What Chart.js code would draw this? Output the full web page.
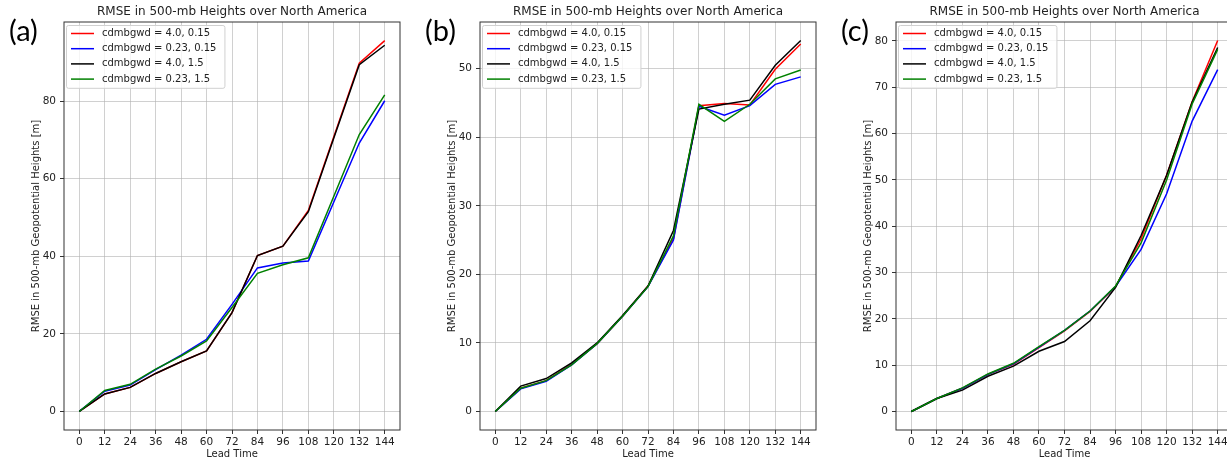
<!DOCTYPE html>
<html>
<head>
<meta charset="utf-8">
<script src="https://cdn.jsdelivr.net/npm/chart.js@4/dist/chart.umd.min.js"></script>
<style>
  html, body { margin: 0; padding: 0; background: #fff; overflow: hidden; width: 1227px; height: 460px; }
  .panel { position: absolute; top: 0; }
  .tag { position: absolute; top: 12px; font-family: Lato, "Open Sans", sans-serif; font-size: 29px; color: #000; }
</style>
</head>
<body>
<canvas id="chartA" class="panel" style="left:0px" width="410" height="460"></canvas>
<canvas id="chartB" class="panel" style="left:416px" width="410" height="460"></canvas>
<canvas id="chartC" class="panel" style="left:832px" width="411" height="460"></canvas>
<div class="tag" style="left:9px">(a)</div>
<div class="tag" style="left:425px">(b)</div>
<div class="tag" style="left:841px">(c)</div>
<script>
// lead times (hours)
const leadTimes = [0, 12, 24, 36, 48, 60, 72, 84, 96, 108, 120, 132, 144];
const seriesLabels = ['cdmbgwd = 4.0, 0.15', 'cdmbgwd = 0.23, 0.15', 'cdmbgwd = 4.0, 1.5', 'cdmbgwd = 0.23, 1.5'];

// panel (a)
const a_40_015  = [0, 4.5, 6.2, 9.8, 12.8, 15.6, 25.5, 40.2, 42.6, 51.8, 70.8, 89.8, 95.6];
const a_023_015 = [0, 5.2, 6.8, 10.8, 14.5, 18.6, 27.6, 37.0, 38.3, 38.8, 54.0, 69.2, 80.1];
const a_40_15   = [0, 4.5, 6.2, 9.8, 12.8, 15.6, 25.5, 40.2, 42.6, 51.5, 70.5, 89.4, 94.4];
const a_023_15  = [0, 5.4, 7.0, 10.9, 14.3, 18.2, 26.8, 35.6, 37.8, 39.6, 55.5, 71.4, 81.6];
const a_yTicks  = [0, 20, 40, 60, 80];

// panel (b)
const b_40_015  = [0, 3.4, 4.5, 6.9, 9.9, 13.9, 18.3, 25.2, 44.6, 44.9, 44.7, 49.9, 53.6];
const b_023_015 = [0, 3.3, 4.4, 6.8, 9.9, 13.9, 18.2, 25.0, 44.5, 43.2, 44.6, 47.7, 48.8];
const b_40_15   = [0, 3.7, 4.8, 7.1, 10.0, 14.0, 18.3, 26.4, 44.1, 44.8, 45.4, 50.5, 54.1];
const b_023_15  = [0, 3.4, 4.5, 6.8, 9.9, 13.9, 18.2, 25.6, 44.8, 42.3, 44.8, 48.5, 49.8];
const b_yTicks  = [0, 10, 20, 30, 40, 50];

// panel (c)
const c_40_015  = [0, 2.8, 5.0, 8.0, 10.2, 13.8, 17.4, 21.6, 26.9, 37.3, 51.0, 66.9, 80.1];
const c_023_015 = [0, 2.8, 5.0, 8.0, 10.3, 13.9, 17.5, 21.7, 27.0, 35.0, 47.0, 62.7, 73.8];
const c_40_15   = [0, 2.8, 4.6, 7.6, 9.8, 13.0, 15.1, 19.6, 26.8, 38.0, 51.0, 66.8, 78.6];
const c_023_15  = [0, 2.8, 5.1, 8.1, 10.4, 14.0, 17.5, 21.7, 27.1, 36.4, 50.0, 66.4, 78.2];
const c_yTicks  = [0, 10, 20, 30, 40, 50, 60, 70, 80];

const colors = ['#ff0000', '#0000ff', '#000000', '#008000'];
const gridColor = 'rgba(176,176,176,0.6)';
const textColor = '#222';

Chart.defaults.font.family = '"DejaVu Sans", sans-serif';

// frame round the plot + legend inside the top left corner
const frameAndLegend = {
  id: 'frameAndLegend',
  afterDatasetsDraw(chart) {
    const {ctx, chartArea} = chart;
    ctx.save();
    ctx.strokeStyle = '#333';
    ctx.lineWidth = 1;
    ctx.strokeRect(chartArea.left, chartArea.top, chartArea.right - chartArea.left, chartArea.bottom - chartArea.top);

    ctx.font = '10px "DejaVu Sans"';
    const sets = chart.data.datasets;
    let w = 0;
    sets.forEach(d => { w = Math.max(w, ctx.measureText(d.label).width); });
    const x = chartArea.left + 2, y = chartArea.top + 3;
    ctx.fillStyle = 'rgba(255,255,255,0.8)';
    ctx.strokeStyle = '#d0d0d0';
    ctx.beginPath();
    ctx.roundRect(x + 0.5, y + 0.5, w + 44, sets.length * 15.2 + 2, 2);
    ctx.fill();
    ctx.stroke();
    sets.forEach((d, i) => {
      const ry = y + 8.5 + i * 15.2;
      ctx.strokeStyle = d.borderColor;
      ctx.lineWidth = 1.5;
      ctx.beginPath();
      ctx.moveTo(x + 5, ry);
      ctx.lineTo(x + 28, ry);
      ctx.stroke();
      ctx.fillStyle = textColor;
      ctx.textBaseline = 'middle';
      ctx.fillText(d.label, x + 36, ry);
    });
    ctx.restore();
  }
};

function makePanel(id, series, yMin, yMax, yTicks) {
  return new Chart(document.getElementById(id), {
    type: 'line',
    data: {
      datasets: series.map((vals, i) => ({
        label: seriesLabels[i],
        data: vals.map((v, j) => ({x: leadTimes[j], y: v})),
        borderColor: colors[i],
        borderWidth: 1.5,
        pointRadius: 0,
        tension: 0,
        fill: false,
        order: 4 - i
      }))
    },
    options: {
      responsive: false,
      animation: false,
      layout: { padding: {left: 24, right: 10, top: 0, bottom: 0} },
      plugins: {
        legend: { display: false },
        tooltip: { enabled: false },
        title: {
          display: true,
          text: 'RMSE in 500-mb Heights over North America',
          fullSize: false,
          color: textColor,
          font: { size: 12, weight: 'normal' },
          padding: {top: 5, bottom: 2.6}
        }
      },
      scales: {
        x: {
          type: 'linear',
          min: -7.2,
          max: 151.2,
          afterBuildTicks: s => { s.ticks = leadTimes.map(v => ({value: v})); },
          afterFit: s => { s.height = 30; },
          border: { display: false },
          grid: { color: gridColor, tickColor: '#333', tickLength: 4 },
          ticks: { color: textColor, font: {size: 10.5}, padding: 2, maxRotation: 0, autoSkip: false },
          title: { display: true, text: 'Lead Time', color: textColor, font: {size: 10}, padding: {top: 0, bottom: 0} }
        },
        y: {
          min: yMin,
          max: yMax,
          afterBuildTicks: s => { s.ticks = yTicks.map(v => ({value: v})); },
          afterFit: s => { s.width = 40; },
          border: { display: false },
          grid: { color: gridColor, tickColor: '#333', tickLength: 4 },
          ticks: { color: textColor, font: {size: 10.5}, padding: 4 },
          title: { display: true, text: 'RMSE in 500-mb Geopotential Heights [m]', color: textColor, font: {size: 10}, padding: {top: 6, bottom: 0} }
        }
      }
    },
    plugins: [frameAndLegend]
  });
}

makePanel('chartA', [a_40_015, a_023_015, a_40_15, a_023_15], -4.78, 100.4, a_yTicks);
makePanel('chartB', [b_40_015, b_023_015, b_40_15, b_023_15], -2.7, 56.8, b_yTicks);
makePanel('chartC', [c_40_015, c_023_015, c_40_15, c_023_15], -4.0, 84.1, c_yTicks);
</script>
</body>
</html>
